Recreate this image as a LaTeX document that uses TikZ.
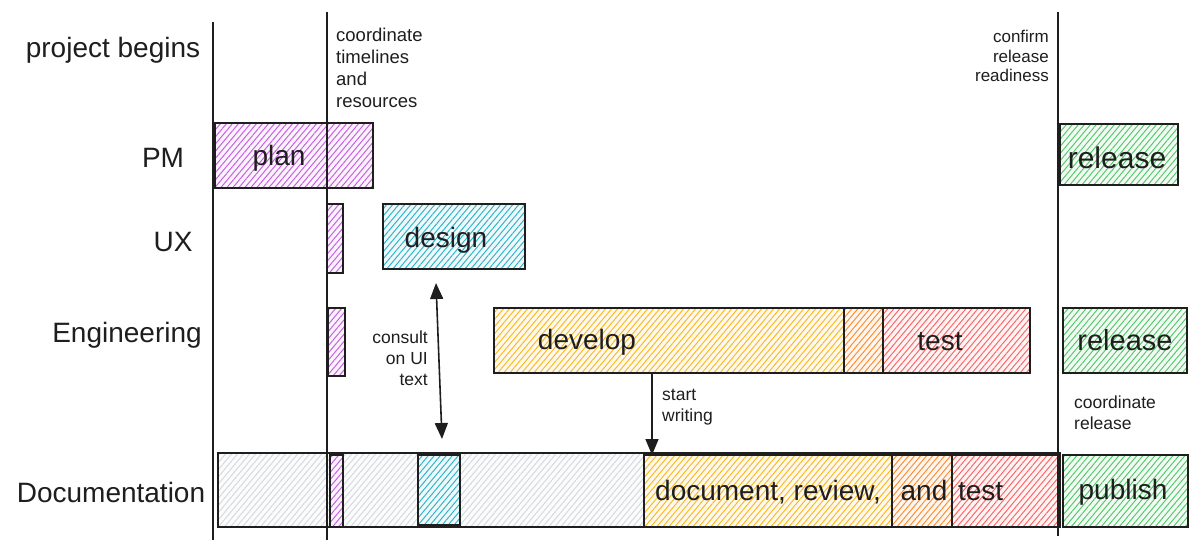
\documentclass[tikz,border=0pt]{standalone}
\usepackage{fontspec}
\setmainfont{Liberation Sans}
\usetikzlibrary{patterns.meta,arrows.meta,fit}
\definecolor{ink}{HTML}{1E1E1E}
\definecolor{cpurple}{HTML}{BE4BDB}
\definecolor{cteal}{HTML}{15AABF}
\definecolor{cyellow}{HTML}{FAB005}
\definecolor{cred}{HTML}{FA5252}
\definecolor{cgreen}{HTML}{40C057}
\definecolor{cgray}{HTML}{CED4DA}
\definecolor{corange}{HTML}{FD7E14}
\begin{document}
\begin{tikzpicture}[x=1pt,y=-1pt,
  bar/.style={draw=ink,line width=1.8pt,rectangle,inner sep=0pt,outer sep=0pt},
  hatch/.style={preaction={fill=#1!7}, pattern={Lines[angle=50,distance=4.6pt,line width=0.95pt]}, pattern color=#1!90},
  rule/.style={draw=ink,line width=1.7pt},
  big/.style={font=\fontsize{28}{30}\selectfont, text=ink, inner sep=0pt},
  small/.style={font=\fontsize{17.5}{21}\selectfont, text=ink, inner sep=0pt},
  arr/.style={draw=ink, line width=1.6pt, -{Triangle[length=16pt,width=13pt]}},
  dbl/.style={draw=ink, line width=1.6pt, {Triangle[length=16pt,width=13pt]}-{Triangle[length=16pt,width=13pt]}},
]
\useasboundingbox (0,0) rectangle (1200,551);
\fill[white] (0,0) rectangle (1200,551);

% PM row
\node[bar,hatch=cpurple,fit={(215,123)(373,188)}] (plan) {};
\node[bar,hatch=cgreen,fit={(1060,124)(1178,185)}] (pmrel) {};
% UX row
\node[bar,hatch=cpurple,fit={(327,204)(343,273)}] (uxp) {};
\node[bar,hatch=cteal,fit={(383,204)(525,269)}] (design) {};
% Engineering row
\node[bar,hatch=cpurple,fit={(328,308)(345,376)}] (engp) {};
\node[bar,hatch=cyellow,fit={(494,308)(883,373)}] (develop) {};
\node[bar,hatch=cred,fit={(844,308)(1030,373)}] (test) {};
\node[bar,hatch=corange,fit={(844,308)(883,373)}] (ovE) {};
\node[bar,hatch=cgreen,fit={(1063,308)(1187,373)}] (engrel) {};
% Documentation row
\node[bar,hatch=cgray,fit={(218,453)(1060,527)}] (docgray) {};
\node[bar,hatch=cpurple,fit={(330,455)(343,527)}] (docp) {};
\node[bar,hatch=cteal,fit={(418,455)(460,525)}] (docteal) {};
\node[bar,hatch=cyellow,fit={(644,455)(952,527)}] (docY) {};
\node[bar,hatch=cred,fit={(892,455)(1060,527)}] (docR) {};
\node[bar,hatch=corange,fit={(892,455)(952,527)}] (ovD) {};
\node[bar,hatch=cgreen,fit={(1063,455)(1188,527)}] (publish) {};

% timeline rules
\coordinate (l1t) at (213,22);  \coordinate (l1b) at (213,540);
\coordinate (l2t) at (327,12);  \coordinate (l2b) at (327,540);
\coordinate (l3t) at (1058,12); \coordinate (l3b) at (1058,536);
\draw[rule] (l1t) -- (l1b);
\draw[rule] (l2t) -- (l2b);
\draw[rule] (l3t) -- (l3b);

% arrows
\coordinate (cA) at (436,283);
\coordinate (cB) at (442,439);
\draw[dbl] (cA) -- (cB);
\coordinate (sw1) at (652,373);
\coordinate (sw2) at (652,455);
\draw[arr] (sw1) -- (sw2);

% row labels
\node[big] (lbBegin) at (113,50) {project begins};
\node[big] (lbPM) at (163,158) {PM};
\node[big] (lbUX) at (173,242) {UX};
\node[big] (lbEng) at (127,335) {Engineering};
\node[big] (lbDoc) at (111,492) {Documentation};

% box labels
\node[big] (tPlan) at (279,158) {plan};
\node[big,font=\fontsize{30}{32}\selectfont] (tRel1) at (1117,158) {release};
\node[big] (tDesign) at (446,240) {design};
\node[big] (tDev) at (587,342) {develop};
\node[big] (tTest) at (940,342) {test};
\node[big,font=\fontsize{29}{32}\selectfont] (tRel2) at (1125,340) {release};
\node[big] (tPub) at (1123,492) {publish};
\node[big,anchor=west] (tDoc) at (655,492) {document, review,\hspace{12pt} and\hspace{3pt} test};

% small notes
\node[small,anchor=north west,align=left,font=\fontsize{18.5}{22}\selectfont] (nCoord) at (336,28) {coordinate\\timelines\\and\\resources};
\node[small,anchor=north east,align=right,font=\fontsize{17}{19.5}\selectfont] (nConfirm) at (1049,30) {confirm\\release\\readiness};
\node[small,anchor=east,align=right] (nConsult) at (428,358) {consult\\on UI\\text};
\node[small,anchor=north west,align=left] (nStart) at (662,389) {start\\writing};
\node[small,anchor=north west,align=left] (nCoordRel) at (1074,396) {coordinate\\release};
\end{tikzpicture}
\end{document}
